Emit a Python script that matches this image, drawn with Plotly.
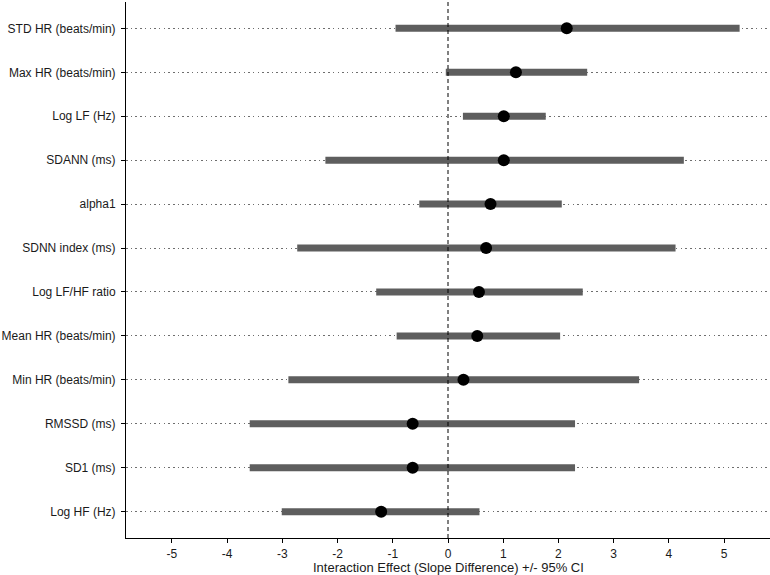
import plotly.graph_objects as go

measures = ["STD HR (beats/min)", "Max HR (beats/min)", "Log LF (Hz)", "SDANN (ms)",
            "alpha1", "SDNN index (ms)", "Log LF/HF ratio", "Mean HR (beats/min)",
            "Min HR (beats/min)", "RMSSD (ms)", "SD1 (ms)", "Log HF (Hz)"]
estimate = [2.15, 1.23, 1.01, 1.01, 0.77, 0.69, 0.56, 0.53, 0.28, -0.64, -0.64, -1.21]
ci_low = [-0.95, -0.04, 0.27, -2.22, -0.52, -2.73, -1.30, -0.93, -2.89, -3.59, -3.59, -3.01]
ci_high = [5.28, 2.52, 1.77, 4.27, 2.06, 4.12, 2.44, 2.03, 3.46, 2.30, 2.30, 0.57]
x_ticks = [-5, -4, -3, -2, -1, 0, 1, 2, 3, 4, 5]
x_title = "Interaction Effect (Slope Difference) +/- 95% CI"

bx, by = [], []
for m, lo, hi in zip(measures, ci_low, ci_high):
    bx += [lo, hi, None]
    by += [m, m, None]

fig = go.Figure()
fig.add_trace(go.Scatter(x=bx, y=by, mode="lines",
                         line=dict(color="#5e5e5e", width=7),
                         hoverinfo="skip", showlegend=False))
fig.add_trace(go.Scatter(x=estimate, y=measures, mode="markers",
                         marker=dict(color="black", size=12),
                         showlegend=False))

fig.add_shape(type="line", xref="x", yref="paper", x0=0, x1=0, y0=0, y1=1,
              line=dict(color="black", width=1, dash="4px,3px"), layer="above")

fig.add_annotation(text=x_title, xref="paper", yref="paper", x=0.5, y=0,
                   yshift=-29, yanchor="middle", xanchor="center", showarrow=False,
                   font=dict(size=13, color="#1a1a1a"))

fig.update_layout(
    width=770, height=575,
    margin=dict(l=126, r=0, t=2, b=37, autoexpand=False),
    paper_bgcolor="white", plot_bgcolor="white",
    font=dict(family="Liberation Sans, Arial, sans-serif", size=12, color="#1a1a1a"),
    xaxis=dict(range=[-5.83, 5.83], tickvals=x_ticks, ticktext=[str(v) for v in x_ticks],
               showgrid=False, zeroline=False, showline=True, linecolor="black",
               linewidth=1, ticks="outside", ticklen=4, tickcolor="black",
               automargin=False, ticklabelstandoff=1),
    yaxis=dict(type="category", categoryorder="array",
               categoryarray=list(reversed(measures)), range=[-0.6, 11.6],
               showgrid=True, gridcolor="#6e6e6e", gridwidth=1, griddash="1.5px,3.2px",
               zeroline=False, showline=True, linecolor="black", linewidth=1,
               ticks="outside", ticklen=4, tickcolor="black",
               automargin=False, ticklabelstandoff=3),
)

fig.write_html("out.html", config={"displayModeBar": False},
               post_script="document.body.style.margin='0';document.body.style.overflow='hidden';")
